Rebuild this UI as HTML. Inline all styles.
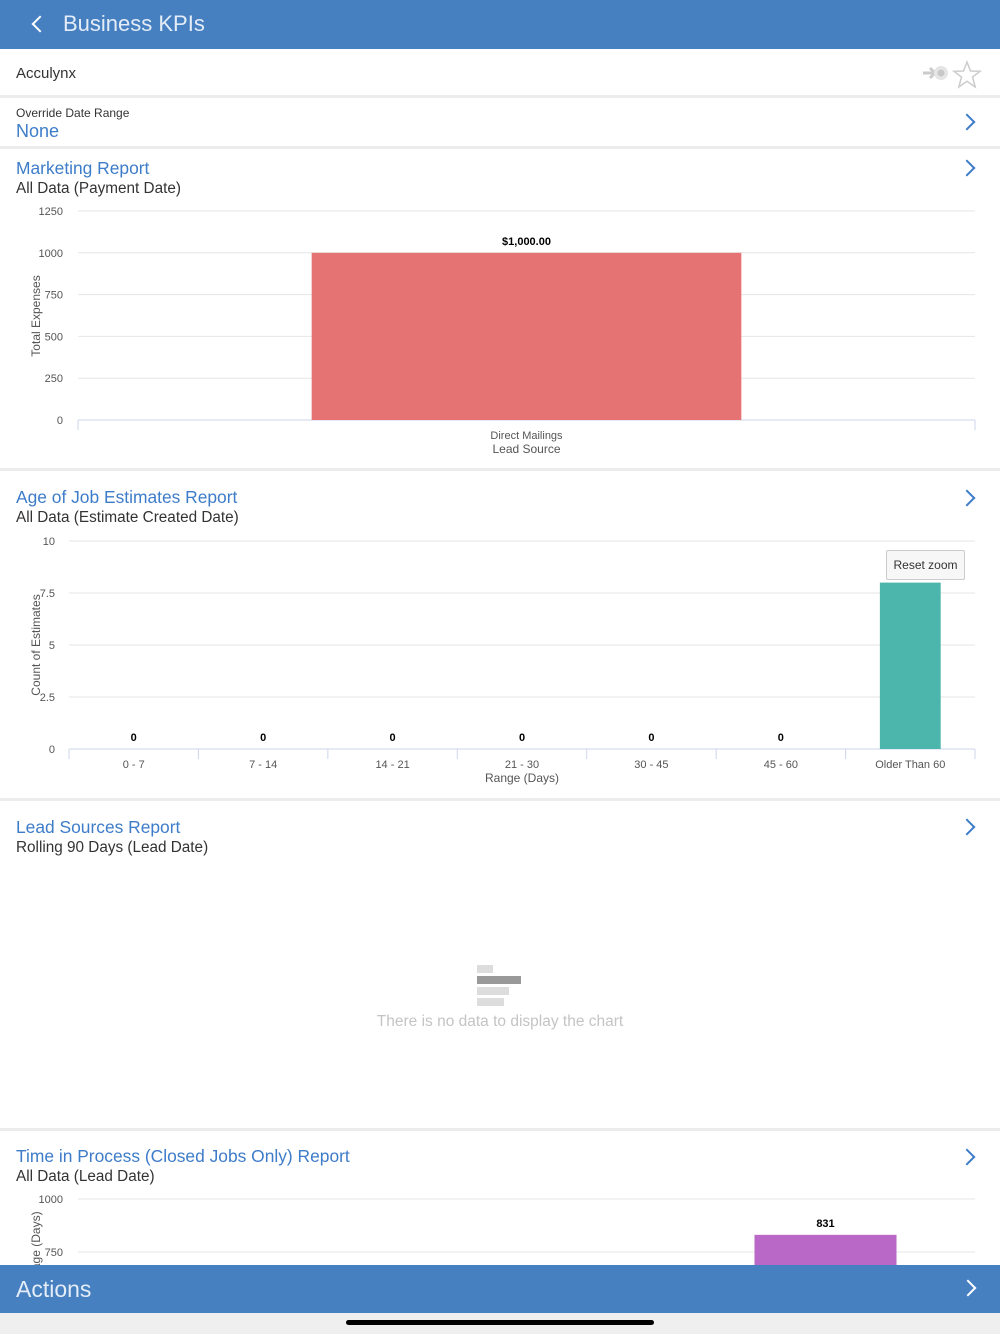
<!DOCTYPE html>
<html style="width:1000px;height:1334px;overflow:hidden"><head><meta charset="utf-8"><style>
*{margin:0;padding:0;box-sizing:border-box}
body{width:1000px;height:1334px;overflow:hidden;background:#fff;font-family:"Liberation Sans",sans-serif;position:relative}
.abs{position:absolute}
.sep{position:absolute;left:0;width:1000px;height:3px;background:#ececec}
.title{position:absolute;left:16px;color:#3d7cc9;font-size:17.4px}
.sub{position:absolute;left:16px;color:#333;font-size:15.3px}
.chev{position:absolute;right:27px;width:12px;height:12px;border-right:2px solid #3d7cc9;border-top:2px solid #3d7cc9;transform:rotate(45deg)}
svg text{font-family:"Liberation Sans",sans-serif}
</style></head><body>
<div class="abs" style="left:0;top:0;width:1000px;height:49px;background:#4680c0">
  <div class="abs" style="left:34px;top:18px;width:12px;height:12px;border-left:2px solid #fff;border-bottom:2px solid #fff;transform:rotate(45deg)"></div>
  <div class="abs" style="left:63px;top:11px;color:#e3ecf7;font-size:22px;font-weight:300">Business KPIs</div>
</div>
<div class="abs" style="left:16px;top:65px;font-size:15px;color:#333">Acculynx</div>
<svg class="abs" style="left:921px;top:63px" width="30" height="22"><line x1="2" y1="10" x2="14" y2="10" stroke="#ccc" stroke-width="3"/><polyline points="9,5 14,10 9,15" fill="none" stroke="#ccc" stroke-width="3"/><circle cx="20" cy="10" r="7" fill="#e5e5e5"/><circle cx="20" cy="10" r="3.5" fill="#c8c8c8"/></svg>
<svg class="abs" style="left:952px;top:60px" width="30" height="30"><polygon points="15,2 18.5,11 28,11.3 20.5,17 23.2,27 15,21.3 6.8,27 9.5,17 2,11.3 11.5,11" fill="none" stroke="#ccc" stroke-width="1.5"/></svg>
<div class="sep" style="top:95px"></div>
<div class="abs" style="left:16px;top:106px;font-size:12px;color:#333">Override Date Range</div>
<div class="abs" style="left:16px;top:121px;font-size:18px;color:#3d7cc9">None</div>
<div class="chev" style="top:116px"></div>
<div class="sep" style="top:146px"></div>

<div class="title" style="top:158px">Marketing Report</div>
<div class="sub" style="top:180px">All Data (Payment Date)</div>
<div class="chev" style="top:162px"></div>
<svg id="c1" class="abs" style="left:0;top:195px" width="1000" height="270"></svg>
<div class="sep" style="top:468px"></div>

<div class="title" style="top:487px">Age of Job Estimates Report</div>
<div class="sub" style="top:509px">All Data (Estimate Created Date)</div>
<div class="chev" style="top:492px"></div>
<svg id="c2" class="abs" style="left:0;top:525px" width="1000" height="270"></svg>
<div class="abs" style="left:886px;top:550px;width:79px;height:30px;border:1px solid #ccc;border-radius:2px;background:#f7f7f7;font-size:12px;color:#333;text-align:center;line-height:28px">Reset zoom</div>
<div class="sep" style="top:798px"></div>

<div class="title" style="top:817px">Lead Sources Report</div>
<div class="sub" style="top:839px">Rolling 90 Days (Lead Date)</div>
<div class="chev" style="top:821px"></div>
<div class="abs" style="left:477px;top:965px">
  <div style="width:16px;height:8px;background:#ddd"></div>
  <div style="width:44px;height:8px;background:#999;margin-top:3px"></div>
  <div style="width:32px;height:8px;background:#ddd;margin-top:3px"></div>
  <div style="width:27px;height:8px;background:#ddd;margin-top:3px"></div>
</div>
<div class="abs" style="left:0;width:1000px;top:1013px;text-align:center;font-size:15.5px;color:#c4c4c4">There is no data to display the chart</div>
<div class="sep" style="top:1128px"></div>

<div class="title" style="top:1146px">Time in Process (Closed Jobs Only) Report</div>
<div class="sub" style="top:1168px">All Data (Lead Date)</div>
<div class="chev" style="top:1151px"></div>
<svg id="c3" class="abs" style="left:0;top:1185px" width="1000" height="80"></svg>

<div class="abs" style="left:0;top:1265px;width:1000px;height:48px;background:#4680c0">
  <div class="abs" style="left:16px;top:11px;color:#e3ecf7;font-size:23px;font-weight:300">Actions</div>
  <div class="abs" style="right:26px;top:17px;width:12px;height:12px;border-right:2px solid #fff;border-top:2px solid #fff;transform:rotate(45deg)"></div>
</div>
<div class="abs" style="left:0;top:1313px;width:1000px;height:21px;background:#efefef">
  <div class="abs" style="left:346px;top:7px;width:308px;height:5px;border-radius:3px;background:#000"></div>
</div>

<script>
const mkCats = ["Direct Mailings"];
const mkVals = [1000];
const mkTicks = [0,250,500,750,1000,1250];
const mkLabels = ["$1,000.00"];

const ageCats = ["0 - 7","7 - 14","14 - 21","21 - 30","30 - 45","45 - 60","Older Than 60"];
const ageVals = [0,0,0,0,0,0,8];
const ageTicks = [0,2.5,5,7.5,10];
const ageTickLabels = ["0","2.5","5","7.5","10"];

const tipCats = ["A","B","C"];
const tipVals = [300,500,831];
const tipTicks = [750,1000];

const NS="http://www.w3.org/2000/svg";
function el(svg,tag,attrs,txt){const e=document.createElementNS(NS,tag);for(const k in attrs)e.setAttribute(k,attrs[k]);if(txt!==undefined)e.textContent=txt;svg.appendChild(e);return e;}

function chart(svg, o){
  const yS=v=>o.y0-(v-o.vmin)/(o.vmax-o.vmin)*(o.y0-o.y1);
  const W=(o.x1-o.x0)/o.cats.length;
  const xS=i=>o.x0+W*(i+0.5);
  o.ticks.forEach((t,i)=>{
    const g=el(svg,'line',{x1:o.x0,x2:o.x1,y1:yS(t),y2:yS(t),stroke:'#e6e6e6','stroke-width':1});
    
    
    const tx=el(svg,'text',{x:o.tickX,y:yS(t)+4,'text-anchor':'end','font-size':11,fill:'#555'},o.tickLabels?o.tickLabels[i]:t);
    
    
  });
  if(o.axis){
    el(svg,'line',{x1:o.x0,x2:o.x1,y1:o.y0,y2:o.y0,stroke:'#ccd6eb','stroke-width':1});
    for(let i=0;i<=o.cats.length;i++){el(svg,'line',{x1:o.x0+W*i,x2:o.x0+W*i,y1:o.y0,y2:o.y0+10,stroke:'#ccd6eb'});}
  }
  o.vals.forEach((v,i)=>{
    const bw=W*o.bwr;
    const r=el(svg,'rect',{x:xS(i)-bw/2,y:yS(v),width:bw,height:Math.max(0,yS(o.vmin<v?o.vmin:v)-yS(v)),fill:o.color});
    
    
    const lt=el(svg,'text',{x:xS(i),y:yS(v)-8,'text-anchor':'middle','font-size':11,'font-weight':'bold',fill:'#000'},o.labels?o.labels[i]:v);
    
    
    if(o.showCats){
      const c=el(svg,'text',{x:xS(i),y:o.y0+19,'text-anchor':'middle','font-size':11,fill:'#555'},o.cats[i]);
      
      
    }
  });
  if(o.xTitle){const t=el(svg,'text',{x:(o.x0+o.x1)/2,y:o.y0+33,'text-anchor':'middle','font-size':12,fill:'#555'},o.xTitle);
    }
  const yt=el(svg,'text',{x:0,y:0,'text-anchor':'middle','font-size':12,fill:'#555',transform:`translate(${o.ytX},${o.ytY}) rotate(-90)`},o.yTitle);
  
  
}
chart(document.getElementById('c1'),{cats:mkCats,vals:mkVals,labels:mkLabels,ticks:mkTicks,vmin:0,vmax:1250,x0:78,x1:975,y0:225,y1:16,tickX:63,color:'#e57373',bwr:0.479,axis:true,showCats:true,xTitle:'Lead Source',yTitle:'Total Expenses',ytX:40,ytY:121});
chart(document.getElementById('c2'),{cats:ageCats,vals:ageVals,ticks:ageTicks,tickLabels:ageTickLabels,vmin:0,vmax:10,x0:69,x1:975,y0:224,y1:16,tickX:55,color:'#4db6ac',bwr:0.47,axis:true,showCats:true,xTitle:'Range (Days)',yTitle:'Count of Estimates',ytX:40,ytY:120});
chart(document.getElementById('c3'),{cats:tipCats,vals:tipVals,ticks:tipTicks,vmin:0,vmax:1000,x0:78,x1:975,y0:226,y1:14,tickX:63,color:'#ba68c8',bwr:0.475,axis:false,showCats:false,yTitle:'Average (Days)',ytX:40,ytY:68});
</script>
</body></html>
